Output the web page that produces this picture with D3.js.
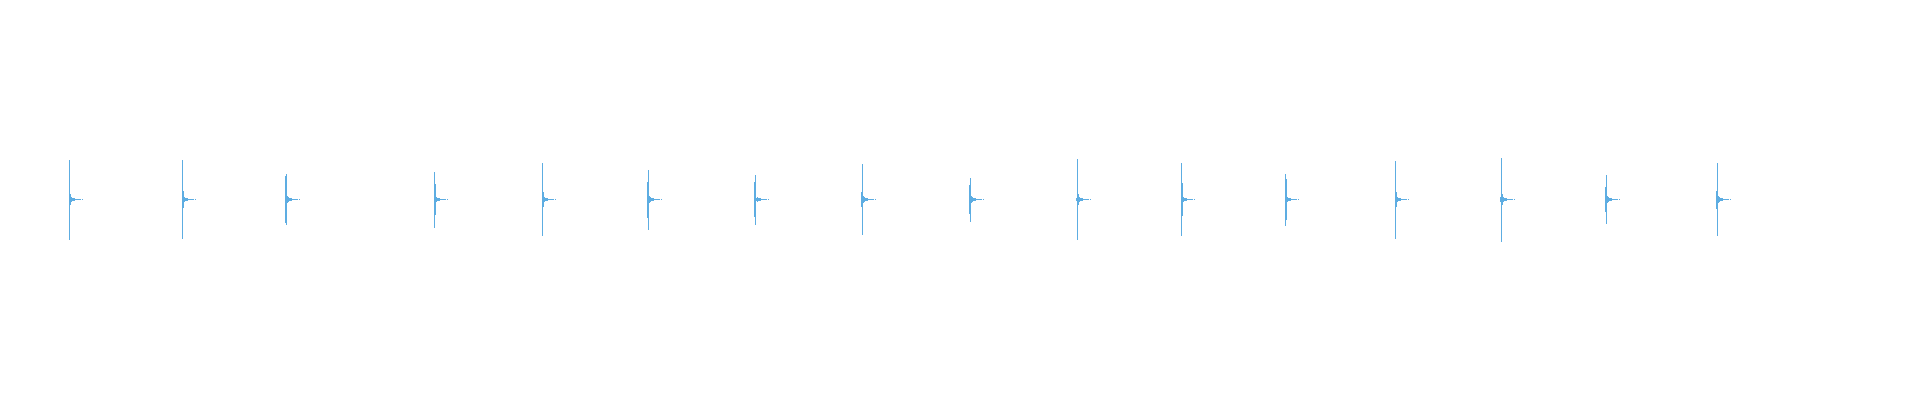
<!DOCTYPE html>
<html lang='en'>
  <head>
    <meta charset='utf-8'>
    <title>Waveform</title>
    <style>
      html, body {
        margin: 0;
        padding: 0;
        background: #ffffff;
      }
      svg {
        display: block;
      }
    </style>
  </head>
  <body>
    <div id="container"></div>

    <script src='https://cdnjs.cloudflare.com/ajax/libs/d3/7.8.5/d3.min.js'></script>
    <script>

      // onset time of each hit (seconds)
      var hitTimes = [0.345, 0.91, 1.43, 2.17, 2.71, 3.24, 3.775, 4.31,
                      4.85, 5.385, 5.905, 6.425, 6.975, 7.505, 8.03, 8.585];
      // peak sample values of the loudest column of each hit
      var hitMax = [0.219, 0.219, 0.142, 0.153, 0.203, 0.164, 0.136, 0.197,
                    0.119, 0.225, 0.203, 0.142, 0.214, 0.231, 0.136, 0.203];
      var hitMin = [-0.225, -0.219, -0.142, -0.158, -0.203, -0.169, -0.142, -0.197,
                    -0.125, -0.225, -0.203, -0.147, -0.219, -0.236, -0.136, -0.203];
      // amplitude of the column just before and just after the peak
      var preAmp = [0, 0, 0.128, 0, 0, 0.1, 0.097, 0.039,
                    0.083, 0.011, 0, 0, 0, 0.014, 0.067, 0.05];
      var postAmp = [0.033, 0.047, 0.019, 0.086, 0.042, 0.017, 0.011, 0.022,
                     0.017, 0.031, 0.089, 0.114, 0.039, 0.028, 0.019, 0.022];
      // decay that follows every hit, from the 2nd column after the peak on
      var tailAmp = [0.014, 0.008, 0.008, 0.0056, 0.004, 0.004, 0.004, 0.004,
                     0.004, 0.004, 0, 0.004];

      var w = 1920;
      var h = 400;
      var duration = 9.6;
      var colDur = 0.005;   // one drawn column of the waveform

      var xScale = d3.scaleLinear()
        .domain([0, duration])
        .range([0, w]);

      var yScale = d3.scaleLinear()
        .domain([-1, 1])
        .range([379.5, 19.5]);

      // build min/max columns
      var cols = [];
      for (var i = 0; i < hitTimes.length; i++) {
        var t = hitTimes[i];
        if (preAmp[i] > 0) cols.push({t: t - colDur, hi: preAmp[i], lo: -preAmp[i]});
        cols.push({t: t, hi: hitMax[i], lo: hitMin[i]});
        cols.push({t: t + colDur, hi: postAmp[i], lo: -postAmp[i]});
        for (var k = 0; k < tailAmp.length; k++) {
          if (tailAmp[k] > 0) {
            cols.push({t: t + (k + 2) * colDur, hi: tailAmp[k], lo: -tailAmp[k]});
          }
        }
      }

      var svg = d3.select("#container").append("svg")
        .attr("width", w)
        .attr("height", h);

      svg.append("g")
        .attr("fill", "#5dade2")
        .attr("shape-rendering", "crispEdges")
        .selectAll("rect")
        .data(cols)
        .enter()
        .append("rect")
        .attr("x", function(d) { return xScale(d.t); })
        .attr("width", function(d) { return xScale(colDur) - xScale(0); })
        .attr("y", function(d) { return yScale(d.hi); })
        .attr("height", function(d) {
          return Math.max(1, yScale(d.lo) - yScale(d.hi));
        });

    </script>
  </body>
</html>
